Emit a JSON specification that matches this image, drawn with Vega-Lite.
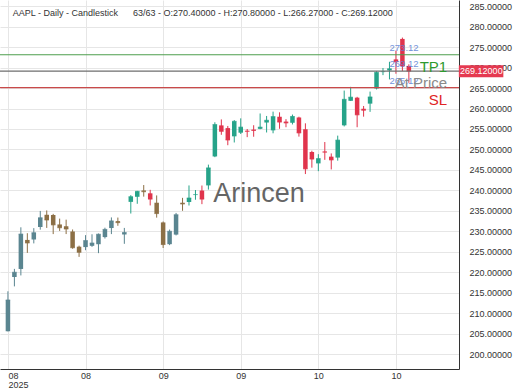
{
  "$schema": "https://vega.github.io/schema/vega-lite/v6.json",
  "width": 459,
  "height": 369,
  "autosize": {"type": "none"},
  "padding": {"left": 0, "top": 0, "right": 61, "bottom": 21},
  "background": "white",
  "config": {
    "font": "Liberation Sans",
    "view": {"stroke": null},
    "axis": {"gridColor": "#e6e6e6", "gridWidth": 1, "ticks": false, "domainColor": "#333333", "labelColor": "#333333", "labelFontSize": 9, "labelFont": "Liberation Sans", "title": null, "labelOverlap": false},
    "axisX": {"labelPadding": 2, "labelLineHeight": 9, "labelFlush": 10},
    "axisY": {"format": ".5f", "labelPadding": 10, "zindex": 0, "labelBound": false, "tickCount": 20}
  },
  "datasets": {
    "candles": [
      {"i":0,"d":"2025-08-06","o":205.63,"h":215.38,"l":205.59,"c":213.25},
      {"i":1,"d":"2025-08-07","o":218.88,"h":220.85,"l":216.58,"c":220.03},
      {"i":2,"d":"2025-08-08","o":220.83,"h":231.00,"l":219.25,"c":229.35},
      {"i":3,"d":"2025-08-11","o":227.92,"h":229.56,"l":224.76,"c":227.18},
      {"i":4,"d":"2025-08-12","o":228.01,"h":230.80,"l":227.07,"c":229.65},
      {"i":5,"d":"2025-08-13","o":231.07,"h":235.00,"l":230.43,"c":233.33},
      {"i":6,"d":"2025-08-14","o":234.06,"h":235.12,"l":230.85,"c":232.78},
      {"i":7,"d":"2025-08-15","o":234.00,"h":234.28,"l":229.34,"c":231.59},
      {"i":8,"d":"2025-08-18","o":231.70,"h":233.12,"l":230.11,"c":230.89},
      {"i":9,"d":"2025-08-19","o":231.28,"h":232.87,"l":229.35,"c":230.56},
      {"i":10,"d":"2025-08-20","o":229.98,"h":230.47,"l":225.77,"c":226.01},
      {"i":11,"d":"2025-08-21","o":226.27,"h":226.52,"l":223.78,"c":224.90},
      {"i":12,"d":"2025-08-22","o":226.17,"h":229.09,"l":225.41,"c":227.76},
      {"i":13,"d":"2025-08-25","o":226.48,"h":229.30,"l":226.23,"c":227.16},
      {"i":14,"d":"2025-08-26","o":226.87,"h":229.49,"l":224.69,"c":229.31},
      {"i":15,"d":"2025-08-27","o":228.61,"h":230.90,"l":228.26,"c":230.49},
      {"i":16,"d":"2025-08-28","o":230.82,"h":233.41,"l":229.34,"c":232.56},
      {"i":17,"d":"2025-08-29","o":232.51,"h":233.38,"l":231.37,"c":232.14},
      {"i":18,"d":"2025-09-02","o":229.25,"h":230.85,"l":226.97,"c":229.72},
      {"i":19,"d":"2025-09-03","o":237.21,"h":238.85,"l":234.36,"c":238.47},
      {"i":20,"d":"2025-09-04","o":238.45,"h":239.90,"l":236.74,"c":239.78},
      {"i":21,"d":"2025-09-05","o":240.00,"h":241.32,"l":238.49,"c":239.69},
      {"i":22,"d":"2025-09-08","o":239.30,"h":240.15,"l":236.34,"c":237.88},
      {"i":23,"d":"2025-09-09","o":237.00,"h":238.78,"l":233.36,"c":234.35},
      {"i":24,"d":"2025-09-10","o":232.19,"h":232.42,"l":225.95,"c":226.79},
      {"i":25,"d":"2025-09-11","o":226.88,"h":230.45,"l":226.65,"c":230.03},
      {"i":26,"d":"2025-09-12","o":229.22,"h":234.51,"l":229.02,"c":234.07},
      {"i":27,"d":"2025-09-15","o":237.00,"h":238.19,"l":235.03,"c":236.70},
      {"i":28,"d":"2025-09-16","o":237.18,"h":241.22,"l":236.32,"c":238.15},
      {"i":29,"d":"2025-09-17","o":238.97,"h":240.10,"l":237.73,"c":238.99},
      {"i":30,"d":"2025-09-18","o":239.97,"h":241.20,"l":236.65,"c":237.88},
      {"i":31,"d":"2025-09-19","o":241.23,"h":246.30,"l":240.21,"c":245.50},
      {"i":32,"d":"2025-09-22","o":248.30,"h":256.64,"l":248.12,"c":256.08},
      {"i":33,"d":"2025-09-23","o":255.88,"h":257.34,"l":253.58,"c":254.43},
      {"i":34,"d":"2025-09-24","o":255.22,"h":255.74,"l":251.04,"c":252.31},
      {"i":35,"d":"2025-09-25","o":253.21,"h":257.17,"l":251.71,"c":256.87},
      {"i":36,"d":"2025-09-26","o":254.10,"h":257.60,"l":253.78,"c":255.46},
      {"i":37,"d":"2025-09-29","o":254.56,"h":255.00,"l":253.01,"c":254.43},
      {"i":38,"d":"2025-09-30","o":254.86,"h":255.92,"l":253.11,"c":254.63},
      {"i":39,"d":"2025-10-01","o":255.04,"h":258.79,"l":254.93,"c":255.45},
      {"i":40,"d":"2025-10-02","o":256.58,"h":258.18,"l":254.15,"c":257.13},
      {"i":41,"d":"2025-10-03","o":254.67,"h":259.24,"l":253.95,"c":258.02},
      {"i":42,"d":"2025-10-06","o":257.99,"h":259.07,"l":255.05,"c":256.69},
      {"i":43,"d":"2025-10-07","o":256.81,"h":257.40,"l":255.43,"c":256.48},
      {"i":44,"d":"2025-10-08","o":256.52,"h":258.52,"l":256.11,"c":258.06},
      {"i":45,"d":"2025-10-09","o":257.81,"h":258.00,"l":253.14,"c":254.04},
      {"i":46,"d":"2025-10-10","o":254.94,"h":256.38,"l":244.00,"c":245.27},
      {"i":47,"d":"2025-10-13","o":249.38,"h":249.69,"l":245.56,"c":247.66},
      {"i":48,"d":"2025-10-14","o":246.60,"h":248.85,"l":244.70,"c":247.77},
      {"i":49,"d":"2025-10-15","o":249.49,"h":251.82,"l":247.47,"c":249.34},
      {"i":50,"d":"2025-10-16","o":248.25,"h":249.04,"l":245.13,"c":247.45},
      {"i":51,"d":"2025-10-17","o":248.02,"h":253.38,"l":247.27,"c":252.29},
      {"i":52,"d":"2025-10-20","o":255.89,"h":264.38,"l":255.63,"c":262.24},
      {"i":53,"d":"2025-10-21","o":261.88,"h":265.29,"l":261.83,"c":262.77},
      {"i":54,"d":"2025-10-22","o":262.65,"h":262.85,"l":255.43,"c":258.45},
      {"i":55,"d":"2025-10-23","o":259.94,"h":260.62,"l":258.01,"c":259.58},
      {"i":56,"d":"2025-10-24","o":261.19,"h":264.13,"l":259.18,"c":262.82},
      {"i":57,"d":"2025-10-27","o":264.88,"h":269.12,"l":264.65,"c":268.81},
      {"i":58,"d":"2025-10-28","o":268.99,"h":269.89,"l":268.15,"c":269.00},
      {"i":59,"d":"2025-10-29","o":269.28,"h":271.41,"l":267.11,"c":269.70},
      {"i":60,"d":"2025-10-30","o":271.99,"h":274.14,"l":268.48,"c":271.40},
      {"i":61,"d":"2025-10-31","o":276.99,"h":277.32,"l":269.16,"c":270.37},
      {"i":62,"d":"2025-11-03","o":270.40,"h":270.80,"l":266.27,"c":269.12}
    ],
    "levels": [
      {"name": "TP1", "p": 273.12, "lbl": "273.12"},
      {"name": "At Price", "p": 269.12, "lbl": "269.12"},
      {"name": "SL", "p": 265.12, "lbl": "265.12"}
    ],
    "last": [{"p": 269.12, "t": "269.12000"}],
    "header": [{"t": "AAPL - Daily - Candlestick\u00a0\u00a0\u00a0\u00a0\u00a0\u00a063/63 - O:270.40000 - H:270.80000 - L:266.27000 - C:269.12000"}],
    "mark": [{"t": "Arincen"}]
  },
  "layer": [
    {
      "data": {"name": "candles"},
      "mark": {"type": "rule", "strokeWidth": 1},
      "encoding": {
        "x": {"field": "i", "type": "quantitative", "title": null,
          "scale": {"domain": [-0.454, 68.98], "nice": false, "zero": false},
          "axis": {"grid": true, "domain": true, "values": [0, 12, 24, 36, 48, 60],
            "labelExpr": "datum.value == 0 ? ['08', '2025'] : datum.value <= 12 ? '08' : datum.value <= 36 ? '09' : '10'"}},
        "y": {"field": "l", "type": "quantitative", "title": null,
          "scale": {"domain": [196.41, 286.49], "nice": false, "zero": false},
          "axis": {"orient": "right", "grid": true, "domain": true, "tickCount": 20, "values": [200, 205, 210, 215, 220, 225, 230, 235, 240, 245, 250, 255, 260, 265, 270, 275, 280, 285]}},
        "y2": {"field": "h"},
        "color": {"condition": [
          {"test": "(datum.i <= 18 || datum.i == 21 || (datum.i >= 23 && datum.i <= 27)) && datum.c >= datum.o", "value": "#5a8590"},
          {"test": "datum.i <= 18 || datum.i == 21 || (datum.i >= 23 && datum.i <= 27)", "value": "#8c6f45"},
          {"test": "datum.c >= datum.o", "value": "#26a389"}], "value": "#e0344c"}
      }
    },
    {
      "data": {"name": "candles"},
      "mark": {"type": "bar", "size": 4.5},
      "encoding": {
        "x": {"field": "i", "type": "quantitative", "title": null},
        "y": {"field": "o", "type": "quantitative", "title": null, "axis": {"orient": "right"}},
        "y2": {"field": "c"},
        "color": {"condition": [
          {"test": "(datum.i <= 18 || datum.i == 21 || (datum.i >= 23 && datum.i <= 27)) && datum.c >= datum.o", "value": "#5a8590"},
          {"test": "datum.i <= 18 || datum.i == 21 || (datum.i >= 23 && datum.i <= 27)", "value": "#8c6f45"},
          {"test": "datum.c >= datum.o", "value": "#26a389"}], "value": "#e0344c"}
      }
    },
    {
      "data": {"name": "candles"},
      "mark": {"type": "tick", "size": 4.5, "thickness": 1, "orient": "horizontal"},
      "encoding": {
        "x": {"field": "i", "type": "quantitative", "title": null},
        "y": {"field": "c", "type": "quantitative", "title": null, "axis": {"orient": "right"}},
        "color": {"condition": [
          {"test": "(datum.i <= 18 || datum.i == 21 || (datum.i >= 23 && datum.i <= 27)) && datum.c >= datum.o", "value": "#5a8590"},
          {"test": "datum.i <= 18 || datum.i == 21 || (datum.i >= 23 && datum.i <= 27)", "value": "#8c6f45"},
          {"test": "datum.c >= datum.o", "value": "#26a389"}], "value": "#e0344c"}
      }
    },
    {
      "data": {"name": "levels"},
      "mark": {"type": "rule", "strokeWidth": 1.2},
      "encoding": {
        "y": {"field": "p", "type": "quantitative", "title": null, "axis": {"orient": "right"}},
        "color": {"condition": [
          {"test": "datum.name == 'TP1'", "value": "#4e9e4e"},
          {"test": "datum.name == 'SL'", "value": "#c94a4a"}], "value": "#6e6e6e"}
      }
    },
    {
      "data": {"name": "levels"},
      "mark": {"type": "text", "align": "center", "baseline": "middle", "dy": -7, "fontSize": 9.5, "opacity": 0.85},
      "encoding": {
        "x": {"datum": 61.26},
        "y": {"field": "p", "type": "quantitative", "title": null, "axis": {"orient": "right"}},
        "text": {"field": "lbl"},
        "color": {"value": "#5b7fd4"}
      }
    },
    {
      "data": {"name": "levels"},
      "mark": {"type": "text", "align": "right", "baseline": "middle", "dy": 12, "fontSize": 15},
      "encoding": {
        "x": {"datum": 67.92},
        "y": {"field": "p", "type": "quantitative", "title": null, "axis": {"orient": "right"}},
        "text": {"field": "name"},
        "color": {"condition": [
          {"test": "datum.name == 'TP1'", "value": "#2e9a2e"},
          {"test": "datum.name == 'SL'", "value": "#e02424"}], "value": "#8a8a8a"}
      }
    },
    {
      "data": {"name": "mark"},
      "mark": {"type": "text", "align": "left", "baseline": "alphabetic", "fontSize": 27, "color": "#555555", "opacity": 0.9},
      "encoding": {
        "x": {"datum": 31.76},
        "y": {"datum": 237.2, "axis": {"orient": "right"}},
        "text": {"field": "t"}
      }
    },
    {
      "data": {"name": "header"},
      "mark": {"type": "text", "align": "left", "baseline": "middle", "fontSize": 9, "color": "#333333"},
      "encoding": {
        "x": {"datum": 0.756},
        "y": {"datum": 283.39, "axis": {"orient": "right"}},
        "text": {"field": "t"}
      }
    },
    {
      "data": {"name": "last"},
      "mark": {"type": "rule", "strokeWidth": 12, "color": "#e53950", "strokeCap": "butt"},
      "encoding": {
        "x": {"datum": 69.73},
        "x2": {"datum": 76.61},
        "y": {"field": "p", "type": "quantitative", "title": null, "axis": {"orient": "right"}}
      }
    },
    {
      "data": {"name": "last"},
      "mark": {"type": "text", "align": "center", "baseline": "middle", "fontSize": 9, "color": "white"},
      "encoding": {
        "x": {"datum": 73.21},
        "y": {"field": "p", "type": "quantitative", "title": null, "axis": {"orient": "right"}},
        "text": {"field": "t"}
      }
    }
  ]
}
